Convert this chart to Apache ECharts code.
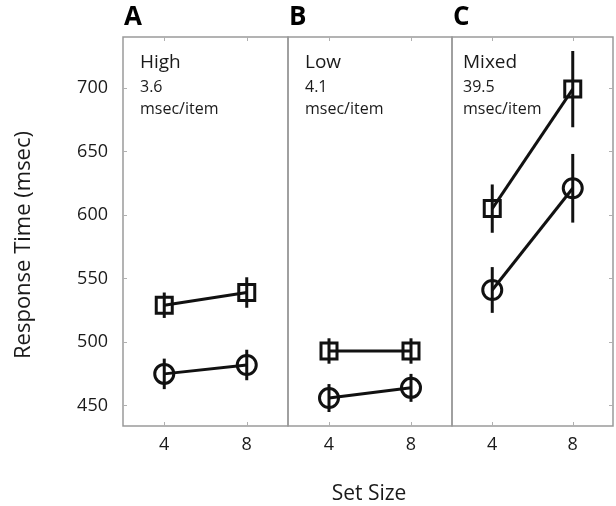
<!DOCTYPE html>
<html>
<head>
<meta charset="utf-8">
<script src="https://cdn.jsdelivr.net/npm/echarts@6/dist/echarts.min.js"></script>
<style>html,body{margin:0;padding:0;background:#fff}#c{width:616px;height:506px}</style>
</head>
<body>
<div id="c"></div>
<script>
// ---- data ----
const setSizes = [4, 8];
const xTicks = [4, 8];
const yTicks = [450, 500, 550, 600, 650, 700];
const panelLetters = ['A', 'B', 'C'];
const conditionNames = ['High', 'Low', 'Mixed'];
const slopes = ['3.6', '4.1', '39.5'];
const squareValues = [[529, 539], [493, 493], [605, 699]];
const squareErrors = [[10, 12], [10, 10], [19, 30]];
const circleValues = [[475, 482], [456, 464], [541, 621]];
const circleErrors = [[12, 12], [11, 11], [18, 27]];

const FONT = '"Open Sans", "DejaVu Sans", sans-serif';
const INK = '#111';
const TXT = '#1a1a1a';
const panels = [
  {left: 123, width: 165},
  {left: 288, width: 164},
  {left: 452, width: 161}
];
const TOP = 37, HEIGHT = 389;
const YMIN = 434, YMAX = 740;

const grid = [], xAxis = [], yAxis = [], series = [], graphic = [];

panels.forEach((p, i) => {
  grid.push({left: p.left, top: TOP, width: p.width, height: HEIGHT, show: true,
    borderColor: '#9a9a9a', borderWidth: 1.5, backgroundColor: 'transparent'});
});
// bottom x axes
panels.forEach((p, i) => {
  xAxis.push({type: 'value', gridIndex: i, min: 2, max: 10, position: 'bottom',
    splitLine: {show: false}, axisLine: {show: false},
    axisTick: {show: true, inside: true, length: 4, customValues: xTicks, lineStyle: {color: '#b0b0b0', width: 1}},
    axisLabel: {show: true, customValues: xTicks, margin: 10, fontFamily: FONT, fontSize: 18, color: TXT}});
});
// top x axes (ticks only)
panels.forEach((p, i) => {
  xAxis.push({type: 'value', gridIndex: i, min: 2, max: 10, position: 'top',
    splitLine: {show: false}, axisLine: {show: false},
    axisTick: {show: true, inside: true, length: 4, customValues: xTicks, lineStyle: {color: '#b0b0b0', width: 1}},
    axisLabel: {show: false}});
});
// left y axes
panels.forEach((p, i) => {
  yAxis.push({type: 'value', gridIndex: i, min: YMIN, max: YMAX, position: 'left',
    splitLine: {show: false}, axisLine: {show: false},
    axisTick: {show: i === 0, inside: true, length: 4, customValues: yTicks, lineStyle: {color: '#b0b0b0', width: 1}},
    axisLabel: {show: i === 0, customValues: yTicks, margin: 15, fontFamily: FONT, fontSize: 18, color: TXT}});
});
// right y axis on last panel (ticks only)
yAxis.push({type: 'value', gridIndex: 2, min: YMIN, max: YMAX, position: 'right',
  splitLine: {show: false}, axisLine: {show: false},
  axisTick: {show: true, inside: true, length: 4, customValues: yTicks, lineStyle: {color: '#b0b0b0', width: 1}},
  axisLabel: {show: false}});

function errorBars(i, vals, errs) {
  return {
    type: 'custom', xAxisIndex: i, yAxisIndex: i, silent: true, z: 3,
    data: setSizes.map((x, j) => [x, vals[j], errs[j]]),
    encode: {x: 0, y: 1},
    renderItem: (params, api) => {
      const x = api.value(0), y = api.value(1), e = api.value(2);
      const a = api.coord([x, y - e]), b = api.coord([x, y + e]);
      return {type: 'line', shape: {x1: a[0], y1: a[1], x2: b[0], y2: b[1]},
        style: {stroke: INK, lineWidth: 3}};
    }
  };
}
function lineSeries(i, vals, symbol, size) {
  return {
    type: 'line', xAxisIndex: i, yAxisIndex: i, z: 4, silent: true, animation: false,
    data: setSizes.map((x, j) => [x, vals[j]]),
    symbol: symbol, symbolSize: size, showAllSymbol: true,
    lineStyle: {color: INK, width: 3},
    itemStyle: {color: 'transparent', borderColor: INK, borderWidth: 3}
  };
}

panels.forEach((p, i) => {
  series.push(errorBars(i, squareValues[i], squareErrors[i]));
  series.push(errorBars(i, circleValues[i], circleErrors[i]));
  series.push(lineSeries(i, squareValues[i], 'rect', 16));
  series.push(lineSeries(i, circleValues[i], 'circle', 19));
  graphic.push({type: 'text', left: p.left + 1, top: 5,
    style: {text: panelLetters[i], font: 'bold 26px ' + FONT, fill: '#000'}});
  const tx = p.left + (i === 2 ? 11 : 17);
  graphic.push({type: 'text', x: tx, y: 63,
    style: {text: conditionNames[i], font: '19px ' + FONT, fill: TXT, verticalAlign: 'middle'}});
  graphic.push({type: 'text', x: tx, y: 87,
    style: {text: slopes[i], font: '16px ' + FONT, fill: TXT, verticalAlign: 'middle'}});
  graphic.push({type: 'text', x: tx, y: 109,
    style: {text: 'msec/item', font: '16px ' + FONT, fill: TXT, verticalAlign: 'middle'}});
});

graphic.push({type: 'text', x: 24, y: 245, rotation: Math.PI / 2,
  style: {text: 'Response Time (msec)', font: '22px ' + FONT, fill: TXT, align: 'center', verticalAlign: 'middle'}});
graphic.push({type: 'text', x: 369, y: 494,
  style: {text: 'Set Size', font: '21px ' + FONT, fill: TXT, align: 'center', verticalAlign: 'middle'}});

const chart = echarts.init(document.getElementById('c'), null, {renderer: 'canvas'});
chart.setOption({animation: false, backgroundColor: '#fff', grid, xAxis, yAxis, series, graphic});
</script>
</body>
</html>
